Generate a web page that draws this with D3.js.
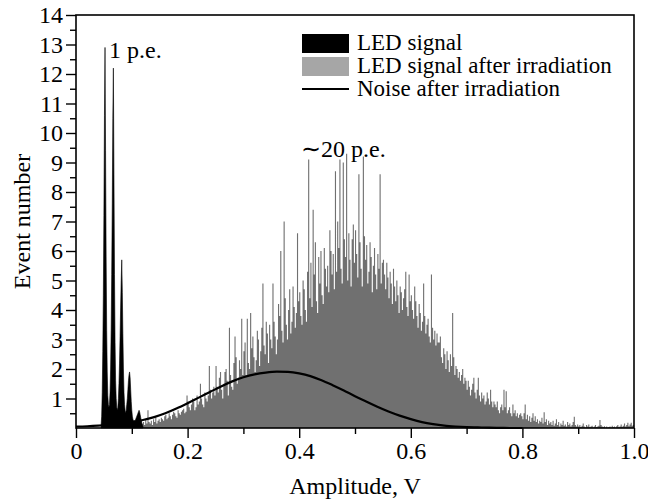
<!DOCTYPE html>
<html><head><meta charset="utf-8">
<script src="https://cdn.jsdelivr.net/npm/d3@7"></script>
<style>
html,body{margin:0;padding:0;background:#fff;}
svg text{font-family:"Liberation Serif","Times New Roman",serif;fill:#000;}
</style></head>
<body>
<svg id="chart" width="648" height="500"></svg>
<script>
// ---- data ----
const xTicks = [0, 0.2, 0.4, 0.6, 0.8, 1.0];
const xMinorTicks = [0.1, 0.3, 0.5, 0.7, 0.9];
const yTicks = [1,2,3,4,5,6,7,8,9,10,11,12,13,14];
const yMinorTicks = [0.5,1.5,2.5,3.5,4.5,5.5,6.5,7.5,8.5,9.5,10.5,11.5,12.5,13.5];

// LED signal (before irradiation), bins of 0.001 V starting at 0.045 V
const blackStart = 0.045, blackStep = 0.001;
const blackValues = [
 0.1,0.4,1.2,2.6,4.5,7.2,10.6,12.9,9.4,5.8,3.3,1.9,1.1,0.8,0.7,
 0.8,1.2,2.0,3.3,5.2,7.6,10.5,12.2,8.6,5.2,2.9,1.6,1.0,0.7,0.6,
 0.7,1.0,1.5,2.2,3.1,4.1,5.0,5.7,4.6,3.2,2.0,1.2,0.8,0.6,0.5,
 0.6,0.8,1.0,1.3,1.6,1.8,1.9,1.7,1.3,0.9,0.6,0.4,0.3,0.25,0.25,
 0.25,0.25,0.3,0.35,0.4,0.45,0.5,0.55,0.6,0.55,0.45,0.35,0.25,0.15,0.1,0.05
];

// LED signal after irradiation, bins of 0.002 V starting at 0.100 V
const grayStart = 0.100, grayStep = 0.002;
const grayValues = [
 0.05,0.1,0.08,0.15,0.1,0.2,0.12,0.1,0.25,0.15,0.2,0.1,0.3,0.15,0.6,0.2,0.15,0.25,0.1,0.3,0.2,0.35,0.15,0.25,0.3,
 0.2,0.35,0.3,0.25,0.4,0.45,0.3,0.35,0.5,0.4,0.3,0.45,0.55,0.5,0.4,0.35,0.6,0.5,0.45,0.55,0.6,0.65,0.5,0.55,1.1,
 0.9,0.7,0.6,0.8,1.0,0.9,0.6,0.7,1.1,0.8,0.9,1.5,1.0,0.8,0.7,1.2,1.0,0.9,1.1,2.1,1.3,1.0,1.2,1.4,1.1,
 2.1,1.4,1.2,1.7,1.9,1.3,1.0,1.5,1.9,2.0,1.6,1.1,3.4,1.8,1.4,1.3,2.2,3.1,2.4,1.5,1.7,2.3,2.0,3.7,1.8,
 2.6,2.9,1.8,3.7,2.2,2.0,3.9,2.7,3.1,2.4,1.9,2.3,3.3,3.0,2.1,2.6,3.4,4.9,2.8,2.5,3.6,3.2,2.2,3.5,3.0,
 2.7,4.9,3.6,3.1,2.5,3.0,4.2,3.8,6.0,3.3,2.9,7.0,4.4,3.5,3.0,4.0,4.7,3.2,3.6,4.8,4.1,3.4,3.9,6.6,4.3,
 4.6,3.8,3.5,5.0,4.7,4.0,3.6,5.3,9.1,4.4,5.6,4.1,7.4,5.2,6.3,4.3,3.9,5.8,4.9,6.0,4.5,4.2,6.1,5.4,4.8,
 5.5,4.6,6.7,6.0,5.2,5.9,4.7,8.7,5.3,7.0,6.1,9.1,5.4,4.9,9.0,6.4,5.8,9.3,5.0,6.6,5.7,4.8,6.4,6.9,5.6,
 6.7,5.9,5.1,8.6,6.3,5.4,4.8,9.2,6.5,5.7,6.2,4.9,5.3,6.3,5.8,4.6,5.5,6.1,5.2,4.7,5.9,5.4,8.6,4.9,5.6,
 5.7,5.2,4.7,5.6,5.1,4.4,5.3,4.9,4.2,5.4,4.8,4.3,5.0,4.5,3.9,4.8,4.6,4.0,4.4,4.7,5.3,4.1,3.8,5.2,4.3,
 4.5,4.0,3.7,4.8,4.3,3.8,3.4,4.2,3.9,3.3,3.6,4.9,3.8,3.2,3.5,3.7,3.1,2.9,5.2,3.4,3.0,3.3,2.8,3.2,2.9,
 2.9,3.1,2.4,2.2,2.7,2.5,2.0,2.6,2.3,1.9,2.5,2.1,3.9,2.4,1.8,2.1,2.0,1.7,1.9,1.6,1.8,2.0,1.5,1.7,1.6,
 1.3,1.6,1.4,1.1,1.3,1.5,1.7,1.2,1.0,1.3,1.7,1.1,0.9,1.2,1.0,1.1,0.8,0.9,1.2,1.0,0.8,1.3,0.9,0.7,0.9,
 0.8,0.7,0.9,0.6,0.5,0.7,0.8,0.6,1.3,0.7,1.25,0.5,0.6,0.7,0.5,0.4,0.8,0.5,0.6,0.4,0.5,0.35,0.45,0.5,0.4,
 0.3,0.5,0.8,0.3,0.45,0.25,0.4,0.2,0.35,0.5,0.25,0.4,0.2,0.3,0.15,0.25,0.2,0.35,0.15,0.53,0.2,0.3,0.1,0.25,0.15,
 0.2,0.1,0.25,0.08,0.15,0.3,0.1,0.2,0.05,0.15,0.1,0.25,0.08,0.12,0.05,0.2,0.1,0.15,0.05,0.1,0.2,0.38,0.1,0.05,0.12,
 0.05,0.1,0.03,0.08,0.15,0.05,0.02,0.1,0.05,0.12,0.03,0.05,0.08,0.02,0.05,0.1,0.03,0.05,0.08,0.27,0.1,0.05,0.03,0.06,0.02,
 0.05,0.02,0.03,0.05,0.02,0.08,0.03,0.05,0.02,0.06,0.1,0.03,0.05,0.12,0.04,0.08,0.15,0.05,0.1,0.18,0.06,0.12,0.18,0.08,0.1
];

// Noise after irradiation (smooth curve)
const noiseX = [0,0.02,0.04,0.06,0.08,0.10,0.12,0.14,0.16,0.18,0.20,0.22,0.24,0.26,0.28,0.30,0.32,0.34,0.36,0.38,
                0.40,0.42,0.44,0.46,0.48,0.50,0.52,0.54,0.56,0.58,0.60,0.62,0.64,0.66,0.68,0.70,0.72,0.74,0.76,0.78,0.80];
const noiseY = [0.05,0.06,0.08,0.11,0.15,0.2,0.27,0.37,0.5,0.66,0.84,1.03,1.22,1.41,1.58,1.72,1.82,1.88,1.91,1.9,
                1.85,1.76,1.62,1.45,1.27,1.08,0.9,0.72,0.56,0.42,0.3,0.2,0.13,0.08,0.05,0.03,0.02,0.01,0.005,0,0];

const legendLabels = ["LED signal", "LED signal after irradiation", "Noise after irradiation"];

// ---- drawing ----
const svg = d3.select("#chart");
const X0 = 76, X1 = 634, Y0 = 428, Y1 = 15;
const x = d3.scaleLinear().domain([0, 1]).range([X0, X1]);
const y = d3.scaleLinear().domain([0, 14]).range([Y0, Y1]);
const FONT = 24;

// gray histogram as one stepped area (no seams between bins)
const grayData = grayValues.map((v, i) => ({x0: grayStart + i * grayStep, v}));
grayData.push({x0: grayStart + grayValues.length * grayStep, v: grayValues[grayValues.length - 1]});
const grayArea = d3.area().x(d => x(d.x0)).y0(y(0)).y1(d => y(d.v)).curve(d3.curveStepAfter);
svg.append("path").datum(grayData).attr("d", grayArea).attr("fill", "#707070");

// black histogram as filled area
const blackData = blackValues.map((v, i) => ({xc: blackStart + i * blackStep, v}));
const area = d3.area().x(d => x(d.xc)).y0(y(0)).y1(d => y(d.v)).curve(d3.curveLinear);
svg.append("path").datum(blackData).attr("d", area).attr("fill", "#000")
  .attr("stroke", "#000").attr("stroke-width", 0.6);

// noise curve
const noiseData = noiseX.map((xv, i) => ({x: xv, y: noiseY[i]}));
const line = d3.line().x(d => x(d.x)).y(d => y(d.y)).curve(d3.curveMonotoneX);
svg.append("path").datum(noiseData).attr("d", line).attr("fill", "none")
  .attr("stroke", "#000").attr("stroke-width", 2.2);

// axes
const axStyle = g => {
  g.attr("font-family", null);
  g.select(".domain").remove();
  g.selectAll(".tick line").attr("stroke", "#000").attr("stroke-width", 1.4);
  g.selectAll(".tick text").style("font-size", FONT + "px")
    .style("font-family", '"Liberation Serif","Times New Roman",serif').attr("fill", "#000");
};
svg.append("g").attr("transform", `translate(0,${Y0})`)
  .call(d3.axisBottom(x).tickValues(xTicks).tickSize(10).tickPadding(4)
    .tickFormat(d => d === 0 ? "0" : d3.format(".1f")(d)))
  .call(axStyle);
svg.append("g").attr("transform", `translate(0,${Y0})`)
  .call(d3.axisBottom(x).tickValues(xMinorTicks).tickSize(6).tickFormat(""))
  .call(axStyle);
svg.append("g").attr("transform", `translate(${X0},0)`)
  .call(d3.axisLeft(y).tickValues(yTicks).tickSize(10).tickPadding(3).tickFormat(d3.format("d")))
  .call(axStyle);
svg.append("g").attr("transform", `translate(${X0},0)`)
  .call(d3.axisLeft(y).tickValues(yMinorTicks).tickSize(6).tickFormat(""))
  .call(axStyle);

// frame
svg.append("rect").attr("x", X0).attr("y", Y1).attr("width", X1 - X0).attr("height", Y0 - Y1)
  .attr("fill", "none").attr("stroke", "#000").attr("stroke-width", 1.6);

// axis titles
svg.append("text").attr("x", (X0 + X1) / 2).attr("y", 494).attr("text-anchor", "middle")
  .style("font-size", FONT + "px").text("Amplitude, V");
svg.append("text").attr("transform", `translate(30,${(Y0 + Y1) / 2}) rotate(-90)`)
  .attr("text-anchor", "middle").style("font-size", FONT + "px").text("Event number");

// annotations
svg.append("text").attr("x", 109).attr("y", 58).style("font-size", FONT + "px").text("1 p.e.");
svg.append("text").attr("x", 301).attr("y", 157).style("font-size", FONT + "px").text("\u223C20 p.e.");

// legend
const lg = svg.append("g");
const rowY = [50, 73, 96];
lg.append("rect").attr("x", 302).attr("y", rowY[0] - 16).attr("width", 47).attr("height", 19).attr("fill", "#000");
lg.append("rect").attr("x", 302).attr("y", rowY[1] - 16).attr("width", 47).attr("height", 19).attr("fill", "#a6a6a6");
lg.append("line").attr("x1", 302).attr("x2", 349).attr("y1", rowY[2] - 7).attr("y2", rowY[2] - 7)
  .attr("stroke", "#000").attr("stroke-width", 2.2);
legendLabels.forEach((t, i) => {
  lg.append("text").attr("x", 357).attr("y", rowY[i]).style("font-size", "23px").text(t);
});
</script>
</body></html>
